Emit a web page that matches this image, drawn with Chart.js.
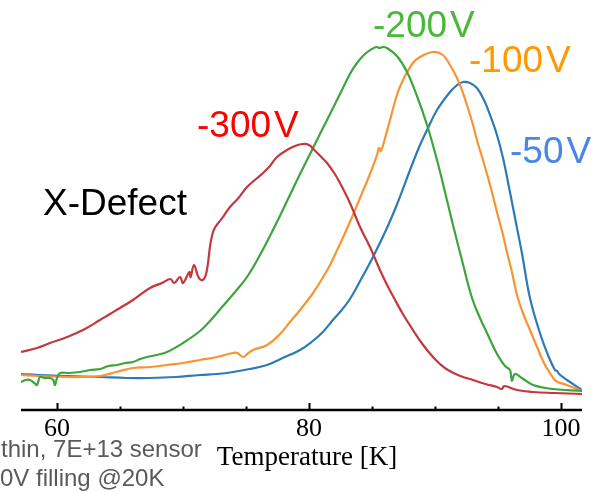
<!DOCTYPE html>
<html>
<head>
<meta charset="utf-8">
<script src="https://cdn.jsdelivr.net/npm/chart.js@4/dist/chart.umd.min.js"></script>
<style>
  html, body { margin: 0; padding: 0; background: #ffffff; }
  #wrap { width: 597px; height: 492px; position: relative; }
</style>
</head>
<body>
<div id="wrap"><canvas id="c" width="597" height="492"></canvas></div>
<script>
// ---- Data (temperature in K, signal in arbitrary units) ----
const tempRed = [57.14,58.4,59.44,60.8,62.06,63.41,64.2,65.0,66.03,67.38,68.33,69.0,69.3,69.76,70.0,70.5,70.6,70.87,71.22,71.55,71.85,72.38,73.17,73.73,74.4,75.08,75.7,76.35,76.9,77.46,78.25,78.9,79.5,80.0,80.5,80.9,81.43,82.0,82.46,83.25,84.05,84.84,85.63,86.2,86.83,87.5,88.25,89.0,89.84,90.4,91.03,92.0,93.02,94.0,94.92,95.3,95.5,96.5,97.78,99.5,101.67];
const sigRed  = [58,62,67,73,80,90,96,102,110,122,127,131,127,133,127,138,133,145,133,130,137,178,193,203,212,223,230,237,244,253,260,264,266,265,259,254,247,237,227,207,183,163,140,125,110,95,80,66,53,46,40,34,30,26,23,21,24,20,18,17,16];

const tempGreen = [57.14,57.5,57.86,58.2,58.41,58.65,59.0,59.44,59.7,59.84,60.0,60.24,61.0,61.83,62.6,63.41,64.1,64.76,65.4,66.03,66.6,67.14,67.9,68.73,70.0,71.35,72.14,73.1,74.13,75.08,76.11,77.14,78.49,79.29,80.32,81.03,81.67,82.46,83.25,83.81,84.44,85.0,85.35,85.6,85.85,86.19,86.98,87.78,88.57,89.37,90.16,90.95,91.43,92.14,92.94,93.57,94.13,94.76,95.16,95.56,95.95,96.03,96.11,96.27,96.43,96.9,97.78,99.37,101.67];
const sigGreen  = [28,30,30,27,25,33,32,32,30,25,32,37,37,38,40,41,44,45,47,48,51,53,55,58,67,79,89,103,118,133,155,180,215,236,262,280,296,316,336,347,356,361,363,362,363,362,354,338,314,285,250,210,185,150,112,92,77,60,51,44,40,35,29,35,36,32,25,21,19];

const tempOrange = [57.14,58.5,60.79,62.0,63.41,64.7,66.03,67.4,68.73,70.0,71.35,72.7,73.97,74.3,74.76,75.1,75.56,76.67,77.7,78.49,79.29,80.32,81.03,81.67,82.46,83.25,84.05,84.84,85.4,85.55,85.7,85.95,86.43,86.98,87.46,88.25,88.81,89.84,90.63,91.19,91.75,92.22,92.54,93.02,93.33,93.81,94.13,94.52,94.92,95.4,95.71,96.11,96.51,96.98,97.54,98.1,98.65,99.13,99.6,100.48,101.67];
const sigOrange  = [35,34,33,33,34,38,42,43,45,47,50,53,57,57,53,56,60,65,76,88,100,117,131,145,166,188,212,236,255,262,259,268,290,315,330,347,353,358,355,345,332,317,305,285,270,250,236,218,198,175,158,138,115,97,80,63,47,37,29,25,19];

const tempBlue = [57.14,58.5,60.79,63.41,65.5,67.38,69.4,71.35,72.7,73.97,75.3,76.67,77.9,79.29,80.3,81.1,81.9,82.6,83.25,84.1,85.08,86.19,87.06,88.02,88.81,89.37,90.16,91.19,91.67,92.22,92.78,93.33,93.89,94.37,94.92,95.4,95.95,96.51,96.9,97.54,98.33,98.97,99.52,99.7,99.85,100.48,101.67];
const sigBlue  = [36,35,34,33,32,32,33,35,36,38,41,45,52,60,69,78,90,100,111,130,153,182,208,240,265,280,300,318,324,328,327,322,310,295,275,252,218,182,157,112,77,55,40,39,36,30,20];

const majorTicks = [60, 80, 100];
const minorTicks = [60, 65, 70, 75, 80, 85, 90, 95, 100];
const curveLabels = ['-300', '-200', '-100', '-50'];

function pts(t, v) { return t.map((x, i) => ({ x: x, y: v[i] })); }

const lineColors = ['#c4373f', '#3ea53c', '#f89533', '#2d7bb6'];
const labelColors = ['#ff0000', '#4cb83a', '#ff9900', '#4a86e8'];
const labelPos = [[197, 137], [373, 37], [469, 72], [510, 163]];

const series = [pts(tempRed, sigRed), pts(tempGreen, sigGreen), pts(tempOrange, sigOrange), pts(tempBlue, sigBlue)];

const deco = {
  id: 'deco',
  afterDraw(chart) {
    const ctx = chart.ctx;
    const xs = chart.scales.x;
    const area = chart.chartArea;
    const y0 = area.bottom;
    ctx.save();
    ctx.strokeStyle = '#000';
    ctx.lineWidth = 2.5;
    ctx.beginPath();
    ctx.moveTo(area.left, y0);
    ctx.lineTo(area.right, y0);
    ctx.stroke();
    ctx.lineWidth = 2;
    minorTicks.forEach(v => {
      const px = Math.round(xs.getPixelForValue(v)) + 0.5;
      const len = majorTicks.includes(v) ? 7 : 3.5;
      ctx.beginPath();
      ctx.moveTo(px, y0);
      ctx.lineTo(px, y0 - len);
      ctx.stroke();
    });
    ctx.font = '37px "Liberation Sans", Arial, sans-serif';
    ctx.textBaseline = 'alphabetic';
    ctx.textAlign = 'left';
    curveLabels.forEach((t, i) => {
      ctx.fillStyle = labelColors[i];
      const [lx, ly] = labelPos[i];
      ctx.fillText(t, lx, ly);
      const w = ctx.measureText(t).width;
      ctx.fillText('V', lx + w + 3, ly);
    });
    ctx.fillStyle = '#000';
    ctx.fillText('X-Defect', 43, 215);
    ctx.font = '27px "Liberation Serif", "Times New Roman", serif';
    ctx.textAlign = 'center';
    ctx.fillText('Temperature [K]', 307, 465);
    ctx.font = '24px "Liberation Sans", Arial, sans-serif';
    ctx.textAlign = 'left';
    ctx.fillStyle = '#5a5a5a';
    ctx.fillText('thin, 7E+13 sensor', 1, 457);
    ctx.fillText('0V filling @20K', 0, 486);
    ctx.restore();
  }
};

new Chart(document.getElementById('c'), {
  type: 'line',
  data: {
    datasets: series.map((d, i) => ({
      label: curveLabels[i] + 'V',
      data: d,
      borderColor: lineColors[i],
      borderWidth: 2.2,
      pointRadius: 0,
      fill: false,
      tension: 0.4
    }))
  },
  options: {
    responsive: false,
    animation: false,
    layout: { padding: { left: 21, right: 15, top: 0, bottom: 0 } },
    plugins: { legend: { display: false }, tooltip: { enabled: false } },
    scales: {
      x: {
        type: 'linear',
        min: 57.14,
        max: 101.67,
        grid: { display: false, drawTicks: false },
        border: { display: false },
        afterBuildTicks: s => { s.ticks = majorTicks.map(v => ({ value: v })); },
        afterFit: s => { s.height = 82; },
        ticks: {
          autoSkip: false,
          maxRotation: 0,
          padding: 4,
          color: '#000',
          font: { family: '"Liberation Serif", "Times New Roman", serif', size: 26 },
          callback: v => String(v)
        }
      },
      y: {
        display: false,
        min: 0,
        max: 410
      }
    }
  },
  plugins: [deco]
});
</script>
</body>
</html>
